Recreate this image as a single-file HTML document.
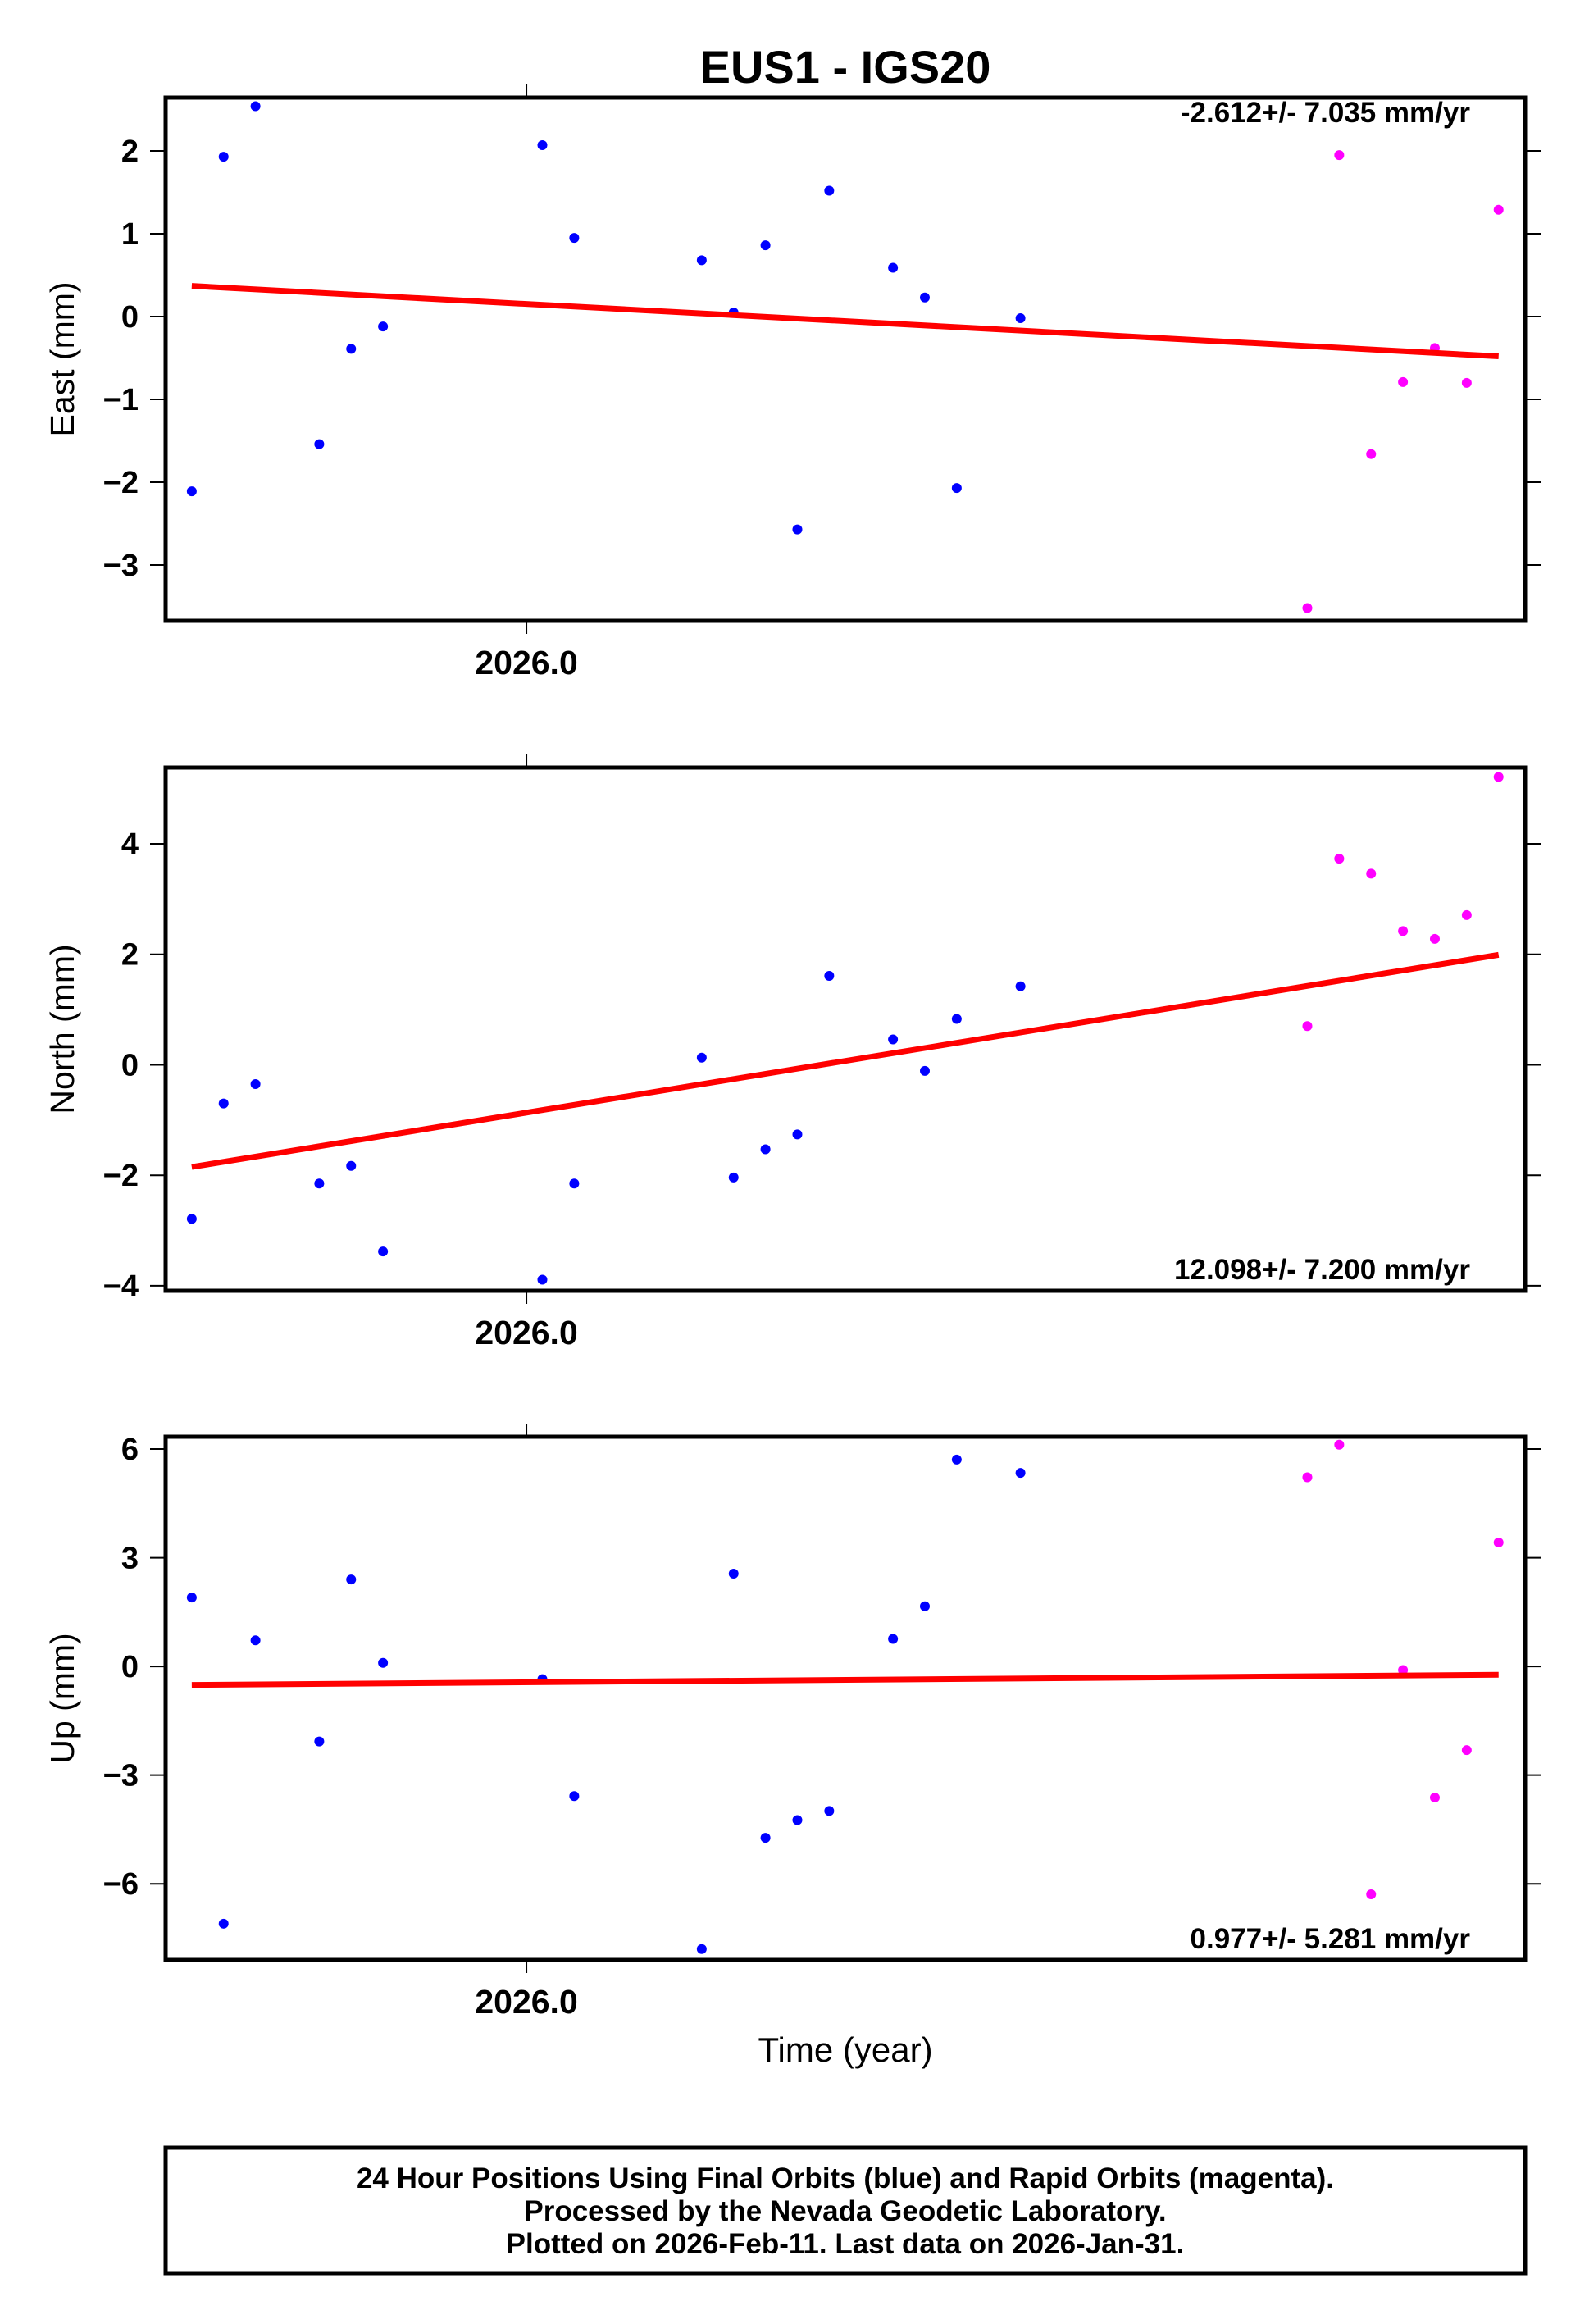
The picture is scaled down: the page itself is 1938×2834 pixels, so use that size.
<!DOCTYPE html>
<html><head><meta charset="utf-8"><style>
html,body{margin:0;padding:0;background:#fff;}
svg{display:block;font-family:"Liberation Sans",sans-serif;}
</style></head><body>
<svg id="chart" width="1938" height="2834" viewBox="0 0 1938 2834" xmlns="http://www.w3.org/2000/svg">
<text x="1031" y="101" font-size="56" font-weight="bold" text-anchor="middle">EUS1 - IGS20</text>
<text x="1031" y="2514" font-size="42" text-anchor="middle">Time (year)</text>
<rect x="202" y="2619" width="1658" height="153" fill="none" stroke="#000" stroke-width="5"/>
<text x="1031" y="2668" font-size="35" font-weight="bold" text-anchor="middle">24 Hour Positions Using Final Orbits (blue) and Rapid Orbits (magenta).</text>
<text x="1031" y="2708" font-size="35" font-weight="bold" text-anchor="middle">Processed by the Nevada Geodetic Laboratory.</text>
<text x="1031" y="2748" font-size="35" font-weight="bold" text-anchor="middle">Plotted on 2026-Feb-11. Last data on 2026-Jan-31.</text>
</svg>
<script>
// days relative to 2026.0
const days = [-10.5,-9.5,-8.5,-6.5,-5.5,-4.5,0.5,1.5,5.5,6.5,7.5,8.5,9.5,11.5,12.5,13.5,15.5,24.5,25.5,26.5,27.5,28.5,29.5,30.5];
const isRapid = [0,0,0,0,0,0,0,0,0,0,0,0,0,0,0,0,0,1,1,1,1,1,1,1];
const eastValues = [-2.11,1.93,2.54,-1.54,-0.39,-0.12,2.07,0.95,0.68,0.05,0.86,-2.57,1.52,0.59,0.23,-2.07,-0.02,-3.52,1.95,-1.66,-0.79,-0.38,-0.80,1.29];
const northValues = [-2.79,-0.70,-0.35,-2.15,-1.83,-3.38,-3.89,-2.15,0.13,-2.04,-1.53,-1.26,1.61,0.46,-0.11,0.83,1.42,0.70,3.73,3.46,2.42,2.28,2.71,5.21];
const upValues = [1.90,-7.10,0.72,-2.07,2.40,0.10,-0.35,-3.58,-7.80,2.56,-4.73,-4.24,-3.99,0.76,1.66,5.71,5.34,5.22,6.12,-6.29,-0.10,-3.62,-2.31,3.42];
const eastTrend = [0.37,-0.48];
const northTrend = [-1.85,1.99];
const upTrend = [-0.51,-0.23];
const eastTicks = [2,1,0,-1,-2,-3];
const northTicks = [4,2,0,-2,-4];
const upTicks = [6,3,0,-3,-6];
const xTickLabels = ["2026.0"];
const xTickDays = [0];
const rateLabels = ["-2.612+/- 7.035 mm/yr","12.098+/- 7.200 mm/yr","0.977+/- 5.281 mm/yr"];

const svg = document.getElementById('chart');
const NS = 'http://www.w3.org/2000/svg';
const X0 = 202, X1 = 1860, DMIN = -11.32, DMAX = 31.33;
function xScale(d){ return X0 + (d - DMIN) / (DMAX - DMIN) * (X1 - X0); }
function mk(tag, attrs){ const e = document.createElementNS(NS, tag); for (const k in attrs) e.setAttribute(k, attrs[k]); svg.appendChild(e); return e; }

const panels = [
  {key:'east', label:'East (mm)', vals:eastValues, trend:eastTrend, ticks:eastTicks, top:119, ymax:2.644, ymin:-3.673, rateTop:true},
  {key:'north', label:'North (mm)', vals:northValues, trend:northTrend, ticks:northTicks, top:936, ymax:5.38, ymin:-4.09, rateTop:false},
  {key:'up', label:'Up (mm)', vals:upValues, trend:upTrend, ticks:upTicks, top:1752, ymax:6.34, ymin:-8.10, rateTop:false}
];
const H = 638;
panels.forEach((p, pi) => {
  const yScale = v => p.top + (p.ymax - v) / (p.ymax - p.ymin) * H;
  p.ticks.forEach(t => {
    const y = yScale(t);
    let e = mk('line', {x1:183, x2:X0, y1:y, y2:y, stroke:'#000', 'stroke-width':2});
    
    
    e = mk('line', {x1:X1, x2:1879, y1:y, y2:y, stroke:'#000', 'stroke-width':2});
    
    
    e = mk('text', {x:169, y:y+13, 'font-size':38, 'font-weight':'bold', 'text-anchor':'end'});
    e.textContent = (t < 0 ? '\u2212' + Math.abs(t) : String(t));
    
    
  });
  xTickDays.forEach((d, i) => {
    const x = xScale(d);
    let e = mk('line', {x1:x, x2:x, y1:p.top-16, y2:p.top, stroke:'#000', 'stroke-width':2});
    
    
    e = mk('line', {x1:x, x2:x, y1:p.top+H, y2:p.top+H+16, stroke:'#000', 'stroke-width':2});
    
    
    e = mk('text', {x:x, y:p.top+H+65, 'font-size':41, 'font-weight':'bold', 'text-anchor':'middle'});
    e.textContent = xTickLabels[i];
    
    
  });
  const cy = p.top + H/2;
  let yl = mk('text', {x:0, y:0, 'font-size':41, 'text-anchor':'middle', transform:'translate(90,'+cy+') rotate(-90)'});
  yl.textContent = p.label;
  
  
  p.vals.forEach((v, i) => {
    const c = mk('circle', {cx:xScale(days[i]), cy:yScale(v), r:6, fill: isRapid[i] ? '#ff00ff' : '#0000ff'});
    
    
  });
  const tl = mk('line', {x1:xScale(days[0]), y1:yScale(p.trend[0]), x2:xScale(days[days.length-1]), y2:yScale(p.trend[1]), stroke:'#ff0000', 'stroke-width':7});
  
  
  const fr = mk('rect', {x:X0, y:p.top, width:X1-X0, height:H, fill:'none', stroke:'#000', 'stroke-width':5});
  
  
  const rt = mk('text', {x:1793, y: p.rateTop ? p.top+30 : p.top+H-14, 'font-size':35, 'font-weight':'bold', 'text-anchor':'end'});
  rt.textContent = rateLabels[pi];
  
  
});
</script>
</body></html>
